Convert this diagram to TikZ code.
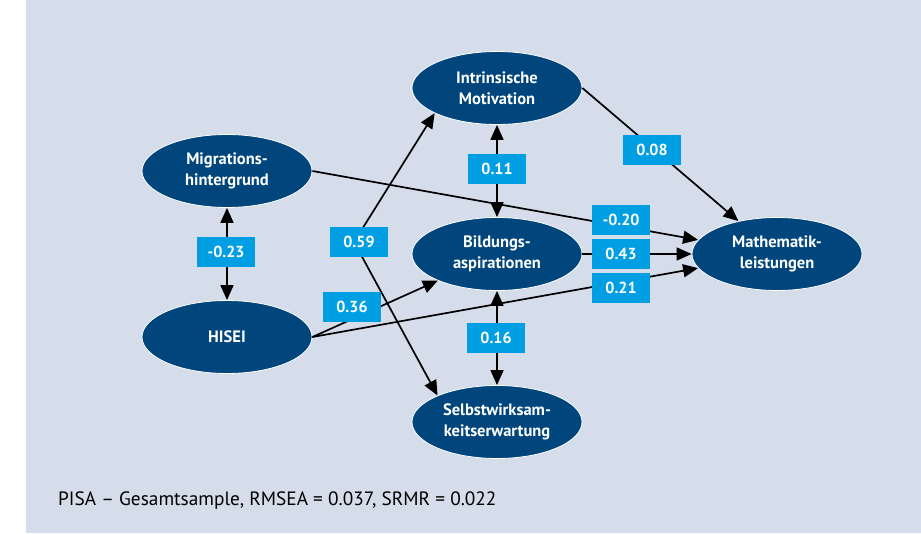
\documentclass[tikz,border=0pt]{standalone}
\usepackage{fontspec}
\setmainfont{PT Sans}
\usetikzlibrary{shapes.geometric,arrows.meta}
\definecolor{panel}{HTML}{D6DDEA}
\definecolor{navy}{HTML}{00467C}
\definecolor{cyanbox}{HTML}{009FE3}
\begin{document}
\begin{tikzpicture}[x=1pt,y=-1pt,
  latent/.style={ellipse, fill=navy, draw=white, line width=0.8pt,
    minimum width=170pt, minimum height=73pt, inner sep=0pt, text=white,
    font=\bfseries\fontsize{16.5}{21.5}\selectfont, align=center},
  coef/.style={fill=cyanbox, text=white, font=\bfseries\fontsize{16}{18}\selectfont,
    minimum width=58pt, minimum height=30pt, inner sep=0pt},
  effect/.style={line width=1.7pt, -{Triangle[length=15pt,width=13pt]}},
  corr/.style={line width=1.7pt, {Triangle[length=15pt,width=13pt]}-{Triangle[length=15pt,width=13pt]}}]
\useasboundingbox (0,0) rectangle (921,533);
\fill[panel] (26,0) rectangle (921,533);

\node[latent] (intr) at (497,88) {Intrinsische\\Motivation};
\node[latent] (mig) at (227,171) {Migrations-\\hintergrund};
\node[latent] (hisei) at (227,337) {HISEI};
\node[latent] (bild) at (497,254) {Bildungs-\\aspirationen};
\node[latent] (selb) at (497,422) {Selbstwirksam-\\keitserwartung};
\node[latent] (math) at (777,254) {Mathematik-\\leistungen};
\coordinate (v) at (354,242);

\draw[corr] (mig) -- (hisei);
\draw[corr] (intr) -- (bild);
\draw[corr] (bild) -- (selb);
\draw[effect] (intr.east) -- (math);
\draw[effect] (mig.east) -- (math);
\draw[effect] (bild) -- (math);
\draw[effect] (hisei.east) -- (math);
\draw[effect] (hisei.east) -- (bild);
\draw[effect] (v) -- (intr.202);
\draw[effect] (v) -- (selb.156);

\node[coef] (c1) at (226,252) {-0.23};
\node[coef] (c2) at (497,169) {0.11};
\node[coef] (c3) at (652,150) {0.08};
\node[coef] (c4) at (359,242) {0.59};
\node[coef] (c5) at (352,307) {0.36};
\node[coef] (c6) at (621,220) {-0.20};
\node[coef] (c7) at (621,254) {0.43};
\node[coef] (c8) at (621,288) {0.21};
\node[coef] (c9) at (496,338) {0.16};

\node[anchor=west, inner sep=0pt, font=\fontsize{19.3}{22}\selectfont] (cap) at (58,501)
  {PISA – Gesamtsample, RMSEA = 0.037, SRMR = 0.022};
\end{tikzpicture}
\end{document}
